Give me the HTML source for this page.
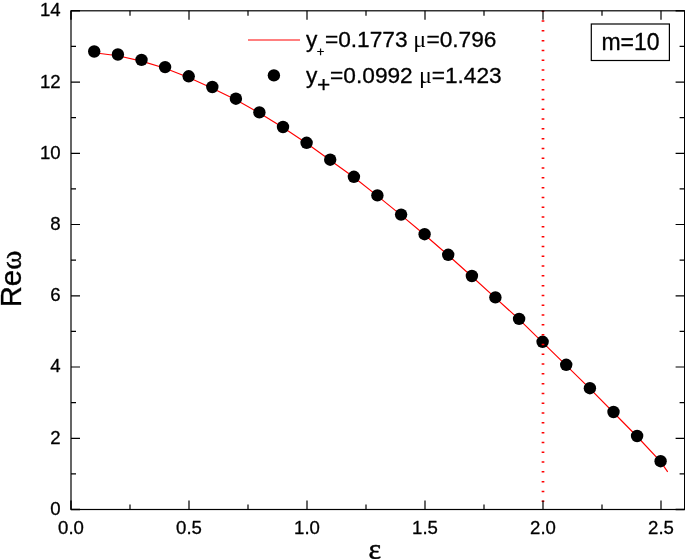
<!DOCTYPE html><html><head><meta charset="utf-8"><title>Re omega vs epsilon</title>
<style>html,body{margin:0;padding:0;background:#fff}body{width:685px;height:559px;overflow:hidden}svg{display:block}text{font-family:"Liberation Sans",Arial,sans-serif;fill:#000;stroke:#000;stroke-width:0.3;stroke-linejoin:round}.g,.g0{font-family:"Liberation Serif","Times New Roman",serif}.g{stroke-width:0.5}.g0{stroke-width:0}</style></head><body>
<svg width="685" height="559" viewBox="0 0 685 559">
<rect width="685" height="559" fill="#fff"/>
<polyline fill="none" stroke="#ff0000" stroke-width="1.15" points="94.2,52.7 117.9,55.7 141.5,61.1 165.1,68.3 188.7,77.5 212.3,88.2 235.9,99.7 259.4,113.1 283.0,127.5 306.6,143.3 330.2,160.2 353.9,177.3 377.4,195.9 401.1,215.1 424.6,234.7 448.2,255.3 471.9,276.5 495.4,297.9 519.1,319.4 542.6,342.3 566.2,365.3 589.9,388.7 613.5,412.5 637.1,436.5 660.6,461.7 667.7,471.9"/>
<circle cx="94.2" cy="51.5" r="6.2" fill="#000"/>
<circle cx="117.9" cy="54.5" r="6.2" fill="#000"/>
<circle cx="141.5" cy="59.9" r="6.2" fill="#000"/>
<circle cx="165.1" cy="67.1" r="6.2" fill="#000"/>
<circle cx="188.7" cy="76.3" r="6.2" fill="#000"/>
<circle cx="212.3" cy="87.0" r="6.2" fill="#000"/>
<circle cx="235.9" cy="98.7" r="6.2" fill="#000"/>
<circle cx="259.4" cy="112.4" r="6.2" fill="#000"/>
<circle cx="283.0" cy="127.0" r="6.2" fill="#000"/>
<circle cx="306.6" cy="142.8" r="6.2" fill="#000"/>
<circle cx="330.2" cy="159.7" r="6.2" fill="#000"/>
<circle cx="353.9" cy="176.8" r="6.2" fill="#000"/>
<circle cx="377.4" cy="195.4" r="6.2" fill="#000"/>
<circle cx="401.1" cy="214.6" r="6.2" fill="#000"/>
<circle cx="424.6" cy="234.2" r="6.2" fill="#000"/>
<circle cx="448.2" cy="254.8" r="6.2" fill="#000"/>
<circle cx="471.9" cy="276.0" r="6.2" fill="#000"/>
<circle cx="495.4" cy="297.4" r="6.2" fill="#000"/>
<circle cx="519.1" cy="318.9" r="6.2" fill="#000"/>
<circle cx="542.6" cy="341.8" r="6.2" fill="#000"/>
<circle cx="566.2" cy="364.8" r="6.2" fill="#000"/>
<circle cx="589.9" cy="388.2" r="6.2" fill="#000"/>
<circle cx="613.5" cy="412.0" r="6.2" fill="#000"/>
<circle cx="637.1" cy="436.0" r="6.2" fill="#000"/>
<circle cx="660.6" cy="461.2" r="6.2" fill="#000"/>
<line x1="543.0" y1="10.5" x2="543.0" y2="509.5" stroke="#ff0000" stroke-width="2.7" stroke-dasharray="1.5 8.3" />
<rect x="71.0" y="10.8" width="613.6" height="498.7" fill="none" stroke="#000" stroke-width="1.2"/>
<path d="M130.0 509.5 v-5 M130.0 10.8 v5 M189.0 509.5 v-9 M189.0 10.8 v9 M248.0 509.5 v-5 M248.0 10.8 v5 M307.0 509.5 v-9 M307.0 10.8 v9 M366.0 509.5 v-5 M366.0 10.8 v5 M425.0 509.5 v-9 M425.0 10.8 v9 M484.0 509.5 v-5 M484.0 10.8 v5 M543.0 509.5 v-9 M543.0 10.8 v9 M602.0 509.5 v-5 M602.0 10.8 v5 M661.0 509.5 v-9 M661.0 10.8 v9 M71.0 473.9 h5 M684.6 473.9 h-5 M71.0 438.3 h9 M684.6 438.3 h-9 M71.0 402.6 h5 M684.6 402.6 h-5 M71.0 367.0 h9 M684.6 367.0 h-9 M71.0 331.4 h5 M684.6 331.4 h-5 M71.0 295.8 h9 M684.6 295.8 h-9 M71.0 260.2 h5 M684.6 260.2 h-5 M71.0 224.5 h9 M684.6 224.5 h-9 M71.0 188.9 h5 M684.6 188.9 h-5 M71.0 153.3 h9 M684.6 153.3 h-9 M71.0 117.7 h5 M684.6 117.7 h-5 M71.0 82.1 h9 M684.6 82.1 h-9 M71.0 46.4 h5 M684.6 46.4 h-5" stroke="#000" stroke-width="1.2" fill="none"/>
<path d="M71.0 509.5 v-9 M71.0 10.8 v9 M71.0 509.5 h9 M684.6 509.5 h-9 M71.0 10.8 h9 M684.6 10.8 h-9" stroke="#000" stroke-width="1.5" fill="none"/>
<text x="71.0" y="534" font-size="18.6" text-anchor="middle">0.0</text>
<text x="189.0" y="534" font-size="18.6" text-anchor="middle">0.5</text>
<text x="307.0" y="534" font-size="18.6" text-anchor="middle">1.0</text>
<text x="425.0" y="534" font-size="18.6" text-anchor="middle">1.5</text>
<text x="543.0" y="534" font-size="18.6" text-anchor="middle">2.0</text>
<text x="661.0" y="534" font-size="18.6" text-anchor="middle">2.5</text>
<text x="60.6" y="514.9" font-size="18.6" text-anchor="end">0</text>
<text x="60.6" y="443.7" font-size="18.6" text-anchor="end">2</text>
<text x="60.6" y="372.4" font-size="18.6" text-anchor="end">4</text>
<text x="60.6" y="301.2" font-size="18.6" text-anchor="end">6</text>
<text x="60.6" y="229.9" font-size="18.6" text-anchor="end">8</text>
<text x="60.6" y="158.7" font-size="18.6" text-anchor="end">10</text>
<text x="60.6" y="87.5" font-size="18.6" text-anchor="end">12</text>
<text x="60.6" y="16.2" font-size="18.6" text-anchor="end">14</text>
<text x="374.7" y="559.3" font-size="30" text-anchor="middle" class="g">ε</text>
<text transform="translate(21.3 307.3) rotate(-90) scale(1 1.035)" font-size="29.3">Re<tspan class="g" font-size="29" stroke-width="0.7">ω</tspan></text>
<line x1="248" y1="39.9" x2="300" y2="39.9" stroke="#ff0000" stroke-width="1.05"/>
<circle cx="273.9" cy="75.4" r="6.2" fill="#000"/>
<text x="306.0" y="47.3" font-size="22.7">y</text>
<text x="316.8" y="55.9" font-size="13">+</text>
<text x="324.9" y="47.3" font-size="22.7">=0.1773</text>
<text x="413.3" y="47.3" font-size="24" class="g0">μ</text>
<text x="426.4" y="47.3" font-size="22.7">=0.796</text>
<text x="306.0" y="83.2" font-size="22.7">y</text>
<text x="317.0" y="91.8" font-size="22.7">+</text>
<text x="330.1" y="83.2" font-size="22.7">=0.0992</text>
<text x="419.0" y="83.2" font-size="24" class="g0">μ</text>
<text x="431.7" y="83.2" font-size="22.7">=1.423</text>
<rect x="591.3" y="24.0" width="78.1" height="36.5" fill="#fff" stroke="#000" stroke-width="1.2"/>
<text x="630.5" y="50.2" font-size="23" text-anchor="middle">m=10</text>
</svg></body></html>
